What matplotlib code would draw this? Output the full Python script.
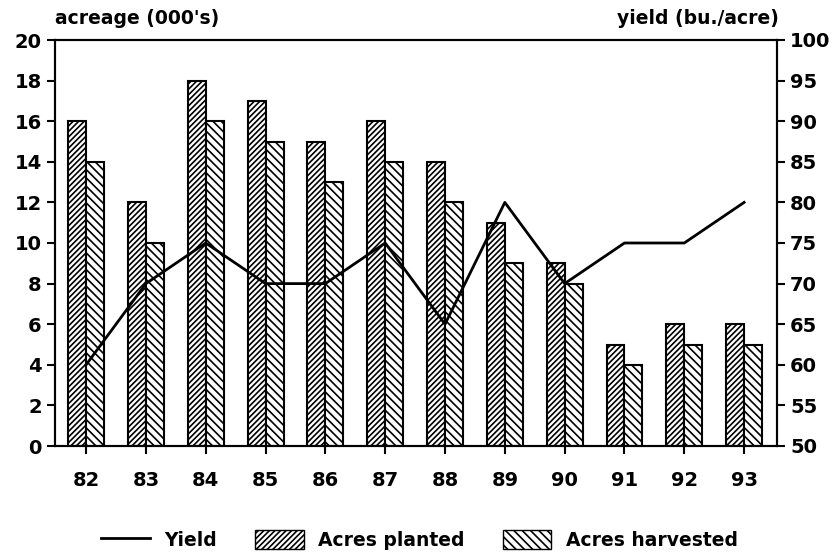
import matplotlib
matplotlib.use("Agg")
import matplotlib.pyplot as plt
import numpy as np
from matplotlib.lines import Line2D
from matplotlib.patches import Patch

years = ["82", "83", "84", "85", "86", "87", "88", "89", "90", "91", "92", "93"]
planted = [16, 12, 18, 17, 15, 16, 14, 11, 9, 5, 6, 6]
harvested = [14, 10, 16, 15, 13, 14, 12, 9, 8, 4, 5, 5]
yield_ = [60, 70, 75, 70, 70, 75, 65, 80, 70, 75, 75, 80]

plt.rcParams['font.family'] = ['DejaVu Sans']
plt.rcParams['font.weight'] = 'bold'
plt.rcParams['hatch.linewidth'] = 1.2

fig = plt.figure(figsize=(8.39, 5.54), dpi=100)
ax = fig.add_axes([55/839, 1-446/554, (777-55)/839, (446-40)/554])
x = np.arange(len(years))
w = 0.3
ax.bar(x - w/2, planted, w, facecolor='white', edgecolor='black', hatch='//////', linewidth=1.5)
ax.bar(x + w/2, harvested, w, facecolor='white', edgecolor='black', hatch='\\\\\\\\', linewidth=1.5)
ax.set_xlim(-0.52, 11.55)
ax.set_ylim(0, 20)
ax.set_yticks(range(0, 21, 2))
ax.set_xticks(x)
ax.set_xticklabels(years)
for s in ax.spines.values():
    s.set_linewidth(1.5)
ax.tick_params(axis='both', labelsize=14, width=1.5, length=6, direction='out')
ax.tick_params(axis='x', pad=12)

ax2 = ax.twinx()
ax2.plot(x, yield_, color='black', linewidth=2)
ax2.set_ylim(50, 100)
ax2.set_yticks(range(50, 101, 5))
ax2.tick_params(axis='y', labelsize=14, width=1.5, length=6, direction='out')
for s in ax2.spines.values():
    s.set_linewidth(1.5)

fig.text(55/839, 1-18/554, "acreage (000's)", fontsize=13.5, fontweight='bold', va='center', ha='left')
fig.text(779/839, 1-18/554, "yield (bu./acre)", fontsize=13.5, fontweight='bold', va='center', ha='right')

handles = [Line2D([0], [0], color='black', lw=2),
           Patch(facecolor='white', edgecolor='black', hatch='//////'),
           Patch(facecolor='white', edgecolor='black', hatch='\\\\\\\\')]
fig.legend(handles, ["Yield", "Acres planted", "Acres harvested"], loc='center',
           bbox_to_anchor=(0.5, 1-540/554), ncol=3, frameon=False, fontsize=13.5,
           handlelength=2.6, handleheight=1.2, columnspacing=2.0)

fig.savefig("out.png", dpi=100)
